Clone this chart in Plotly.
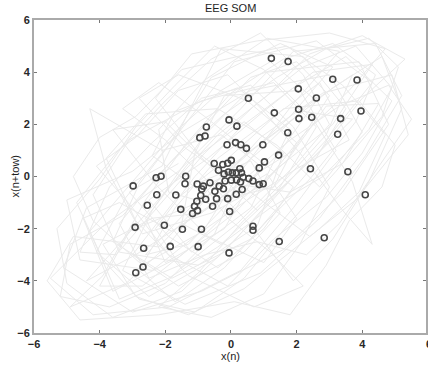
import plotly.graph_objects as go

# SOM node positions (circles)
som_x = [1.23, 1.74, 3.10, 3.84, 2.05, 0.53, 2.60, 1.32, 2.06, 2.07, 2.46, 3.96, 3.34, -0.06, 0.18,
         1.73, 3.25, -0.12, 0.14, 0.30, 0.47, 0.97, 1.45, 1.02, 0.86, 2.42, 3.56, 4.09,
         -0.75, -0.95, -0.79, -2.28, -2.13, -1.38, -1.40, -2.98, -2.26, -1.68, -2.55, -1.53,
         -0.51, -0.25, -0.10, 0.01, -0.38, -0.21, -0.08, 0.04, 0.16, 0.27, 0.32, 0.37, -0.18, 0.01,
         0.17, 0.29, 0.54, 0.67, 0.86, 0.98, -0.64, -0.36, -0.23, 0.34, 0.16, -0.49, -0.89, -0.84,
         -0.92, -0.77, -0.44, -0.10, -0.56, -0.04, -1.03, -1.04, -1.11, -1.02, -1.17,
         -2.92, -2.03, -1.48, -0.90, 0.67, 0.67, -2.66, -1.85, -1.00, 1.47, 2.84, -0.06, -2.68, -2.90]
som_y = [4.53, 4.41, 3.73, 3.70, 3.36, 3.00, 3.01, 2.44, 2.58, 2.22, 2.27, 2.51, 2.22, 2.17, 1.93,
         1.68, 1.62, 1.22, 1.30, 1.22, 1.08, 1.22, 0.82, 0.56, 0.33, 0.30, 0.18, -0.70,
         1.90, 1.49, 1.55, -0.05, 0.01, 0.01, -0.28, -0.36, -0.70, -0.71, -1.10, -1.26,
         0.50, 0.46, 0.51, 0.62, 0.24, 0.10, 0.17, 0.14, 0.14, 0.30, 0.14, -0.03, -0.17, -0.14,
         -0.13, -0.21, -0.08, -0.17, -0.31, -0.28, -0.24, -0.37, -0.47, -0.50, -0.68, -0.57, -0.48, -0.37,
         -0.73, -0.87, -0.85, -0.85, -1.14, -1.34, -0.29, -0.95, -1.14, -1.31, -1.42,
         -1.95, -1.87, -2.02, -2.02, -1.91, -2.06, -2.75, -2.68, -2.69, -2.49, -2.35, -2.93, -3.47, -3.69]

# EEG delay-embedding trajectory (x(n), x(n+tau))
traj_x = [0.2, 1.8, 3.1, 1.5, -0.6, -1.9, -3.2, -4.1, -2.5, -0.4,
          1.2, 2.9, 4.3, 2.6, 0.1, -1.4, -2.8, -3.6, -1.8, 0.6,
          2.3, 3.5, 2.2, -0.3, -1.2, -2.1, -4.4, -5.1, -3.0, -0.9,
          1.6, 3.4, 4.8, 3.9, 1.1, -0.8, -2.4, -3.3, -1.4, 0.9,
          2.7, 4.1, 5.2, 4.4, 1.9, 0.3, -1.6, -3.9, -5.5, -4.2,
          -1.9, 0.3, 1.9, 3.2, 2.1, -0.2, -1.1, -1.5, -0.3, 1.4,
          2.6, 1.3, -0.9, -3.1, -4.2, -3.4, -1.0, 0.8, 1.6, 0.4,
          -1.3, -2.6, -2.0, -0.2, 0.9, -0.3, -2.1, -4.3, -3.8, -2.7,
          -0.6, 1.0, 2.2, 3.6, 4.7, 3.0, 0.8, -1.2, -2.3, -1.0,
          0.7, 2.4, 3.8, 5.4, 4.9, 2.8, 0.9, -0.6, -2.2, -4.8,
          -5.6, -4.6, -2.2, 0.1, 1.8, 2.9, 3.6, 4.6, 5.0, 3.9,
          1.6, 0.0, -1.7, -3.0, -1.6, 0.4, 1.5, 0.6, -0.9, -0.1,
          1.2, 2.2, 0.7, -1.3, -2.9, -3.8, -2.6, -0.4, 1.4, 2.7,
          4.0, 3.0, 0.6, -1.5, -3.0, -5.0, -4.6, -2.4, -0.8, 0.3,
          1.9, 3.3, 1.1, -0.8, -2.2, -1.9, -0.5, 1.1, 2.0, 1.0,
          -0.7, -2.3, -3.6, -2.0, -0.4, 0.8, 2.5, 3.7, 2.2, 0.5,
          -1.2, -3.1, -4.0, -2.7, -1.1, 0.2, 1.7, 2.9, 4.5, 3.4,
          1.8, 0.2, -1.4, -2.8, -1.6, 0.5, 2.0, 1.3, -0.3, -1.8,
          -3.4, -4.5, -3.6, -1.6, 0.1, 1.5, 3.1, 4.3, 2.5, 0.9,
          -0.7, -2.5, -1.2, 0.6, 1.8, 0.2, -1.7, -2.4, -1.0, 0.4,
          -0.5, -2.0, -3.7, -5.2, -4.9, -3.3, -1.8, -0.2, 1.4, 2.9,
          4.2, 5.1, 4.6, 3.2, 1.7, 0.4, -1.1, -2.8, -3.9, -4.7,
          -3.5, -2.0, -0.6, 0.9, 2.2, 3.0, 2.0, 0.2, -1.5, -2.3,
          -1.1, 0.3, 1.9, 3.5, 4.9, 4.0, 2.9, 1.3, -0.1, -1.9,
          -3.0, -4.1, -2.9, -1.6, -0.1, 1.0, 2.1, 3.4, 4.3, 3.7,
          2.5, 1.0, -0.5, -1.7, -2.9, -4.0, -5.3, -5.0, -3.6, -1.5,
          0.0, 1.5, 2.8, 4.0, 5.3, 4.0, 2.4, 1.1, -0.4, -1.8,
          -3.2, -4.4, -2.9, -1.2, 0.4, 1.9, 3.0, 2.0, 0.6, -0.7,
          -2.1, -3.4, -2.5, -0.8, 0.8, 2.3, 3.3, 4.4, 5.5, 4.8,
          3.3, 1.8, 0.5, -0.9, -2.4, -3.9, -2.9, -1.3, 0.4, 1.4,
          2.7, 3.9, 4.7, 3.4, 1.7, 0.2, -1.5, -2.9, -4.0, -4.8,
          -4.2, -2.7, -1.0, 0.5, 2.0, 3.6, 2.7, 1.2, -0.4, -1.7,
          -2.8, -1.7, -0.2, 1.1, 2.4, 3.8, 4.4, 3.1, 1.6, 0.0,
          -1.4, -2.6, -3.9, -4.9, -3.2, -1.9, -0.6, 0.9, 2.3, 3.7,
          2.9, 1.6, 0.3, -1.0, -2.2, -0.6, 1.0, 2.1, 3.0, 1.9,
          0.6, -0.9, -2.4, -3.7, -4.6, -3.5, -2.1, -0.8, 0.7, 2.2,
          3.8, 4.9, 4.2, 2.8, 1.2, -0.4, -1.9, -3.4, -4.3, -3.0,
          -1.7, -0.3, 1.2, 2.6, 1.4, 0.0, -1.3, -2.6, -1.4, 0.1,
          1.7, 3.1, 4.6, 5.2, 4.2, 3.1, 1.9, 0.7, -0.6, -2.0,
          -3.3, -2.2, -0.8, 0.6, 1.9, 1.0, -0.4, -1.9, -3.1, -1.6]
traj_y = [0.5, 2.3, 4.2, 5.1, 3.8, 1.2, -0.8, -2.9, -4.6, -3.1,
          -1.0, 1.4, 3.6, 5.2, 4.4, 2.0, -0.3, -2.5, -3.9, -2.4,
          0.1, 2.6, 4.6, 4.9, 2.7, 0.4, -1.2, -3.5, -5.2, -4.4,
          -2.8, -0.6, 2.0, 4.4, 4.0, 1.6, -1.3, -3.6, -4.9, -3.7,
          -1.6, 0.8, 3.1, 5.1, 4.8, 2.6, 0.2, -1.9, -3.9, -5.3,
          -5.0, -3.6, -1.2, 1.0, 3.3, 3.1, 0.9, -1.8, -2.6, -0.6,
          1.9, 3.6, 2.9, 1.4, -0.7, -2.9, -3.4, -1.9, 0.9, 2.1,
          0.5, -1.6, -3.3, -2.0, 0.4, 1.6, 1.0, 2.6, 0.3, -2.2,
          -1.4, -0.3, 1.6, 3.3, 4.9, 5.5, 5.2, 4.7, 3.0, 0.9,
          -0.7, -2.3, -0.9, 1.6, 3.9, 3.2, 1.5, -0.6, -2.7, -2.3,
          -4.0, -5.5, -5.3, -4.8, -5.3, -3.4, -1.7, -0.4, 1.2, 2.9,
          2.6, 0.8, -0.9, -3.0, -4.2, -2.9, -1.4, 0.6, -0.2, -1.6,
          -2.9, -4.2, -5.0, -3.8, -1.7, 0.7, 2.4, 2.6, 1.2, -0.4,
          1.7, 3.9, 3.3, 1.7, 0.2, -0.9, -3.2, -3.6, -2.0, 0.2,
          2.8, 4.8, 5.3, 3.7, 1.8, -0.6, -1.1, 0.1, -1.6, -3.3,
          -2.3, -0.3, 1.8, 2.1, 0.1, -1.3, 0.7, 2.2, 2.5, 0.9,
          -1.1, -2.1, -4.2, -4.2, -2.6, -1.0, 0.6, 2.7, 2.8, 0.5,
          -0.6, -0.3, 1.1, 3.0, 3.9, 2.9, 1.3, -0.4, -0.9, -2.1,
          -1.0, -1.6, -4.4, -3.1, -1.4, 0.4, 2.0, 4.3, 4.0, 2.4,
          0.7, -0.9, -2.9, -1.2, 1.8, 3.4, 2.5, 0.8, -0.5, 0.4,
          -2.2, -4.1, -5.0, -4.6, -2.6, -1.5, 0.6, 2.4, 3.8, 4.9,
          5.3, 4.2, 2.3, 0.2, -1.9, -3.9, -5.2, -4.7, -3.2, -1.0,
          0.9, 2.9, 4.5, 5.5, 3.9, 2.0, 0.5, -1.8, -3.5, -2.0,
          0.0, 1.9, 3.4, 4.6, 2.9, 0.9, -0.8, -2.4, -4.2, -3.0,
          -1.2, 0.4, 1.5, 3.3, 3.9, 2.5, 0.9, -1.3, -2.6, -0.2,
          2.2, 4.1, 5.0, 3.5, 1.9, -0.1, -2.0, -4.1, -5.4, -4.4,
          -2.6, -0.5, 1.1, 3.0, 4.5, 5.4, 4.7, 3.1, 1.6, -0.3,
          -2.3, -4.0, -3.0, -1.6, -0.2, 1.0, 3.1, 4.4, 3.8, 2.1,
          0.2, -1.8, -3.9, -3.0, -2.5, -3.0, -1.8, 0.2, 2.2, 3.5,
          2.7, 1.4, 0.0, -1.4, -1.6, -2.6, -4.6, -5.3, -4.3, -3.3,
          -2.0, -0.6, 1.6, 3.5, 5.0, 4.6, 4.1, 2.3, 1.5, 0.0,
          -1.7, -3.4, -2.2, -0.9, 0.3, 1.4, 3.6, 2.2, 0.7, -1.2,
          -3.6, -4.8, -3.5, -1.7, -0.1, 2.1, 3.9, 5.1, 4.5, 3.2,
          1.2, -0.9, -3.8, -5.0, -4.1, -2.6, -0.6, 1.0, 2.7, 3.9,
          1.6, -0.2, -1.8, -3.7, -5.0, -5.4, -4.5, -2.6, -0.4, 1.9,
          3.5, 3.0, 1.3, -0.4, -2.9, -3.0, -1.0, 0.9, 2.7, 4.2,
          5.0, 3.4, 1.8, 0.0, -1.2, -2.7, -3.9, -4.7, -2.1, -0.2,
          1.7, 3.3, 4.4, 2.9, 0.8, -0.9, -2.6, -3.0, -1.4, 0.5,
          2.0, 3.4, 4.6, 2.6, -0.2, -2.4, -4.0, -2.0, -0.3, 1.4,
          2.6, 3.6, 2.3, 0.9, -0.4, -2.0, -3.5, -2.3, -0.6, 0.5]

x_ticks = [-6, -4, -2, 0, 2, 4, 6]
y_ticks = [-6, -4, -2, 0, 2, 4, 6]

fig = go.Figure()
fig.add_trace(go.Scatter(x=traj_x, y=traj_y, mode="lines",
                         line=dict(color="rgb(234,234,234)", width=1),
                         hoverinfo="skip", showlegend=False))
fig.add_trace(go.Scatter(x=som_x, y=som_y, mode="markers",
                         marker=dict(symbol="circle-open", size=6, color="rgb(70,70,70)",
                                     line=dict(width=1.6, color="rgb(70,70,70)")),
                         showlegend=False))

tick_font = dict(family="Liberation Sans, Arial", size=11, color="rgb(40,40,40)", weight="bold")
axis_common = dict(showgrid=False, zeroline=False, showline=True, linecolor="rgb(170,170,170)",
                   linewidth=2, ticks="inside", ticklen=3, tickcolor="rgb(120,120,120)",
                   mirror="ticks", tickfont=tick_font)
fig.update_layout(
    width=428, height=365,
    margin=dict(l=34, r=0, t=20, b=32),
    paper_bgcolor="white", plot_bgcolor="white",
    xaxis=dict(range=[-6, 5.94], tickvals=x_ticks, **axis_common),
    yaxis=dict(range=[-6, 6], tickvals=y_ticks, **axis_common),
)
title_font = dict(family="Liberation Sans, Arial", size=11, color="rgb(30,30,30)")
fig.add_annotation(text="EEG SOM", xref="x", yref="paper", x=0, y=1, yanchor="middle",
                   yshift=12, showarrow=False, font=title_font)
fig.add_annotation(text="x(n)", xref="x", yref="paper", x=0, y=0, yanchor="middle",
                   yshift=-23, showarrow=False, font=title_font)
fig.add_annotation(text="x(n+tow)", xref="paper", yref="y", x=0, xanchor="center",
                   xshift=-20, y=0, textangle=-90, showarrow=False, font=title_font)
# last x tick label "6" sits just past the right edge of the window (partly cut off)
fig.add_annotation(text=str(x_ticks[-1]), xref="paper", yref="paper", x=1, y=0,
                   xanchor="center", yanchor="middle", xshift=3, yshift=-11,
                   showarrow=False, font=tick_font)
fig.write_html("out.html", config={"displayModeBar": False},
               post_script="document.body.style.margin='0';document.body.style.overflow='hidden';")
